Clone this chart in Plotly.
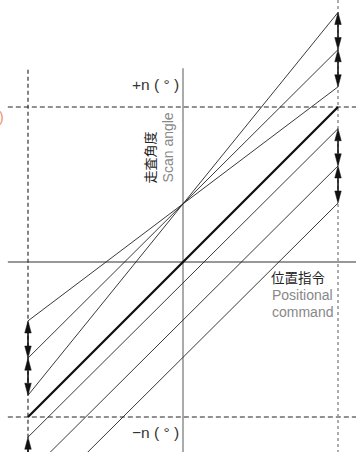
import plotly.graph_objects as go

# 位置指令 (x) と 走査角度 (y)。±n(°) を ±1 とした相対値
cmd_ends = [-1.0, 1.0]
main_angle = [-1.0, 1.0]
upper_left = [-0.86, -0.62, -0.38]   # 上側の交点を通る線 (左端)
upper_right = [1.61, 1.37, 1.13]     # 同 (右端)
lower_left = [-1.61, -1.37, -1.13]   # 下側の交点を通る線 (左端)
lower_right = [0.38, 0.62, 0.86]     # 同 (右端)

X0, X1 = -1.1806, 1.1161
Y0, Y1 = -1.2258, 1.6903

fig = go.Figure()

# 細線 (ずれのある走査角)
lx, ly = [], []
for l, r in list(zip(upper_left, upper_right)) + list(zip(lower_left, lower_right)):
    lx += [cmd_ends[0], cmd_ends[1], None]
    ly += [l, r, None]
fig.add_trace(go.Scatter(x=lx, y=ly, mode='lines',
                         line=dict(color='#222', width=0.9), hoverinfo='skip'))

# 太線 (理想)
fig.add_trace(go.Scatter(x=cmd_ends, y=main_angle, mode='lines',
                         line=dict(color='#111', width=2.3), hoverinfo='skip'))

# 両矢印
hl, hw = 0.078, 0.021
ax_, ay_ = [], []
hx, hy = [], []
def add_arrow(x, a, b):
    top, bot = max(a, b), min(a, b)
    ax_.extend([x, x, None])
    ay_.extend([top - hl, bot + hl, None])
    hx.extend([x, x - hw, x + hw, x, None])
    hy.extend([top, top - hl, top - hl, top, None])
    hx.extend([x, x - hw, x + hw, x, None])
    hy.extend([bot, bot + hl, bot + hl, bot, None])

for vals, x in [(upper_right, cmd_ends[1]), (lower_right, cmd_ends[1]),
                (upper_left, cmd_ends[0]), (lower_left, cmd_ends[0])]:
    for a, b in zip(vals[:-1], vals[1:]):
        add_arrow(x, a, b)

fig.add_trace(go.Scatter(x=ax_, y=ay_, mode='lines',
                         line=dict(color='#111', width=1.6), hoverinfo='skip'))
fig.add_trace(go.Scatter(x=hx, y=hy, mode='lines', fill='toself',
                         fillcolor='#111', line=dict(color='#111', width=0.5),
                         hoverinfo='skip'))

shapes = [
    # 軸
    dict(type='line', x0=0, x1=0, y0=1.25, y1=Y0, line=dict(color='#666', width=1.1)),
    dict(type='line', x0=-1.13, x1=X1, y0=0, y1=0, line=dict(color='#333', width=1.1)),
    # ±n 破線
    dict(type='line', x0=-1.13, x1=X1, y0=1, y1=1, line=dict(color='#222', width=1, dash='5px,3px')),
    dict(type='line', x0=-1.13, x1=X1, y0=-1, y1=-1, line=dict(color='#222', width=1, dash='5px,3px')),
    dict(type='line', x0=-1, x1=-1, y0=1.24, y1=Y0, line=dict(color='#333', width=1.2, dash='4px,3px')),
    dict(type='line', x0=1, x1=1, y0=Y1, y1=Y0, line=dict(color='#999', width=1.6, dash='3px,3px')),
]
for s in shapes:
    s.update(xref='x', yref='y', layer='below')

jp = 'Noto Sans CJK JP'
en = 'Liberation Sans, Arial, sans-serif'
annotations = [
    dict(x=-0.012, y=1.142, text='+n ( ° )', xanchor='right', yanchor='middle',
         font=dict(family=en, size=15.5, color='#333')),
    dict(x=-0.012, y=-1.097, text='−n ( ° )', xanchor='right', yanchor='middle',
         font=dict(family=en, size=15.5, color='#333')),
    dict(x=-0.213, y=0.674, text='走査角度', textangle=-90, xanchor='center', yanchor='middle',
         font=dict(family=jp, size=13, color='#222')),
    dict(x=-0.097, y=0.739, text='Scan angle', textangle=-90, xanchor='center', yanchor='middle',
         font=dict(family=en, size=14, color='#888')),
    dict(x=0.555, y=-0.097, text='位置指令', xanchor='left', yanchor='middle',
         font=dict(family=jp, size=13.5, color='#222')),
    dict(x=0.561, y=-0.213, text='Positional', xanchor='left', yanchor='middle',
         font=dict(family=en, size=14, color='#888')),
    dict(x=0.561, y=-0.323, text='command', xanchor='left', yanchor='middle',
         font=dict(family=en, size=14, color='#888')),
    dict(x=-1.142, y=0.935, text=')', xanchor='right', yanchor='middle',
         font=dict(family=en, size=14, color='#f08a70')),
]
for a in annotations:
    a.update(xref='x', yref='y', showarrow=False)

fig.update_layout(
    width=356, height=452,
    margin=dict(l=0, r=0, t=0, b=0),
    paper_bgcolor='white', plot_bgcolor='white',
    showlegend=False,
    xaxis=dict(range=[X0, X1], visible=False, fixedrange=True),
    yaxis=dict(range=[Y0, Y1], visible=False, fixedrange=True),
    shapes=shapes, annotations=annotations,
)

# ページ余白を消して 356x452 の窓にぴったり合わせる
fig.write_html("out.html", post_script="document.body.style.margin='0';",
               config={'displayModeBar': False})
